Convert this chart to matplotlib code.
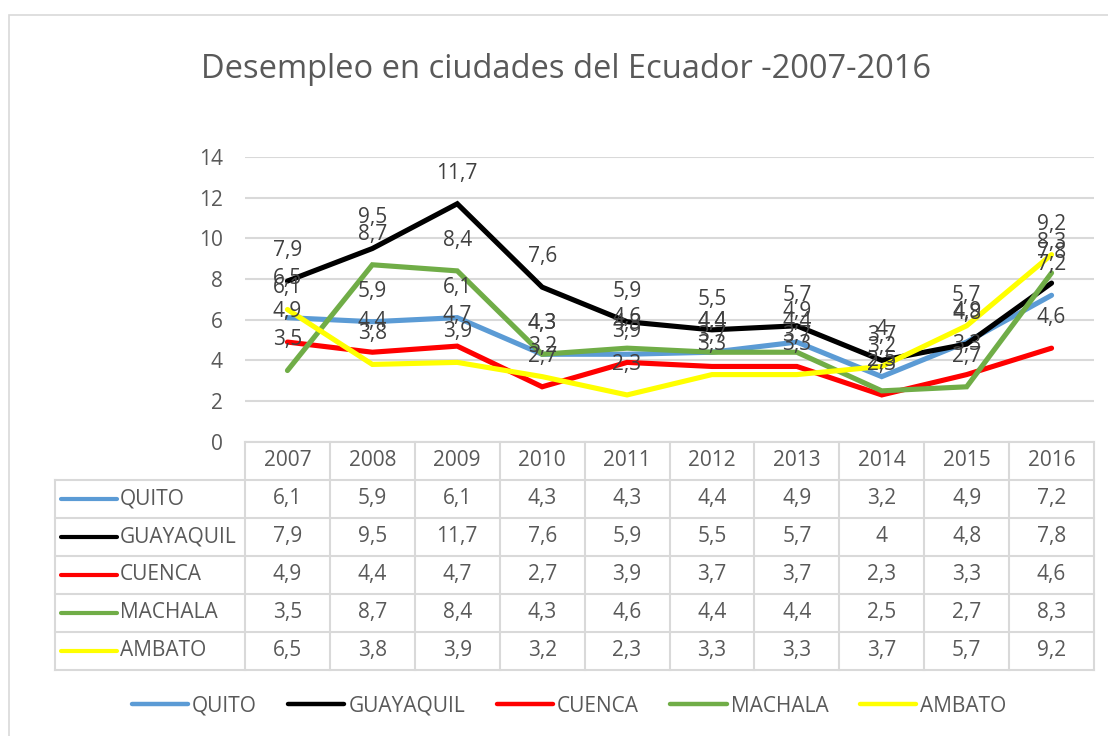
import matplotlib
matplotlib.use("Agg")
import matplotlib.pyplot as plt
from matplotlib.patches import Rectangle

plt.rcParams["font.family"] = ["Open Sans", "DejaVu Sans"]

# data
years = ["2007", "2008", "2009", "2010", "2011", "2012", "2013", "2014", "2015", "2016"]
cities = ["QUITO", "GUAYAQUIL", "CUENCA", "MACHALA", "AMBATO"]
quito = [6.1, 5.9, 6.1, 4.3, 4.3, 4.4, 4.9, 3.2, 4.9, 7.2]
guayaquil = [7.9, 9.5, 11.7, 7.6, 5.9, 5.5, 5.7, 4.0, 4.8, 7.8]
cuenca = [4.9, 4.4, 4.7, 2.7, 3.9, 3.7, 3.7, 2.3, 3.3, 4.6]
machala = [3.5, 8.7, 8.4, 4.3, 4.6, 4.4, 4.4, 2.5, 2.7, 8.3]
ambato = [6.5, 3.8, 3.9, 3.2, 2.3, 3.3, 3.3, 3.7, 5.7, 9.2]
series = [quito, guayaquil, cuenca, machala, ambato]
colors = ["#5B9BD5", "#000000", "#FF0000", "#70AD47", "#FFFF00"]

TXT = "#595959"
GRID = "#D9D9D9"
W, H = 1108, 736
FS = 15


def fmt(v):
    s = ("%.1f" % v).rstrip("0").rstrip(".")
    return s.replace(".", ",")


fig = plt.figure(figsize=(W / 100, H / 100), dpi=100)

# chart border (Excel chart area)
fig.patches.append(Rectangle((9 / W, -0.1), 1.2, 1.1 - 14.5 / H, transform=fig.transFigure,
                             fill=False, edgecolor=GRID, lw=1.2))

fig.text(566 / W, 1 - 69 / H, "Desempleo en ciudades del Ecuador -2007-2016",
         ha="center", va="center", fontsize=23.5, color=TXT)

# main plot area
left, right, top, bottom = 245, 1094, 157, 441.7
ax = fig.add_axes([left / W, 1 - bottom / H, (right - left) / W, (bottom - top) / H])
x = list(range(len(years)))
handles = []
for name, vals, c in zip(cities, series, colors):
    ln, = ax.plot(x, vals, color=c, lw=3.7, solid_capstyle="round", solid_joinstyle="miter",
                  label=name, zorder=3)
    handles.append(ln)
for vals in series:
    for xi, v in zip(x, vals):
        ax.annotate(fmt(v), (xi, v), xytext=(0, 22), textcoords="offset points",
                    ha="center", va="center", fontsize=FS, color="#404040", zorder=5)

ax.set_xlim(-0.5, len(years) - 0.5)
ax.set_ylim(0, 14)
ax.set_yticks(range(0, 15, 2))
ax.set_xticks([])
ax.tick_params(axis="y", length=0, pad=16, labelsize=FS, labelcolor=TXT)
for s in ax.spines.values():
    s.set_visible(False)
ax.set_axisbelow(True)
ax.yaxis.grid(True, color=GRID, lw=1.5)
ax.patch.set_alpha(0)

# data table underneath
colw = (right - left) / len(years)
tleft = -0.5 - (left - 55) / colw
tax = fig.add_axes([55 / W, 1 - 670 / H, (right - 55) / W, (670 - bottom) / H])
tax.set_xlim(tleft, len(years) - 0.5)
tax.set_ylim(6, 0)
tax.axis("off")
lk = dict(color=GRID, lw=1.5, clip_on=False)
for i in range(len(years) + 1):
    tax.plot([i - 0.5, i - 0.5], [0, 6], **lk)
tax.plot([tleft, tleft], [1, 6], **lk)
tax.plot([-0.5, len(years) - 0.5], [0, 0], **lk)
for r in range(1, 7):
    tax.plot([tleft, len(years) - 0.5], [r, r], **lk)
for i, yr in enumerate(years):
    tax.text(i, 0.5, yr, ha="center", va="center", fontsize=FS, color=TXT)
for r, (name, vals, c) in enumerate(zip(cities, series, colors), start=1):
    k0 = -0.5 - (left - 61) / colw
    k1 = -0.5 - (left - 117) / colw
    tax.plot([k0, k1], [r + 0.5, r + 0.5], color=c, lw=3, solid_capstyle="round")
    tax.text(-0.5 - (left - 120) / colw, r + 0.5, name, ha="left", va="center",
             fontsize=FS, color=TXT)
    for i, v in enumerate(vals):
        tax.text(i, r + 0.5, fmt(v), ha="center", va="center", fontsize=FS, color=TXT)

# legend
leg = fig.legend(handles=handles, loc="center", bbox_to_anchor=(569 / W, 1 - 706 / H),
                 ncol=5, frameon=False, fontsize=FS, handlelength=2.7, handletextpad=0.2,
                 columnspacing=1.5, labelcolor=TXT)
for lh in leg.get_lines():
    lh.set_linewidth(3.2)
    lh.set_solid_capstyle("round")

fig.savefig("out.png", dpi=100)
